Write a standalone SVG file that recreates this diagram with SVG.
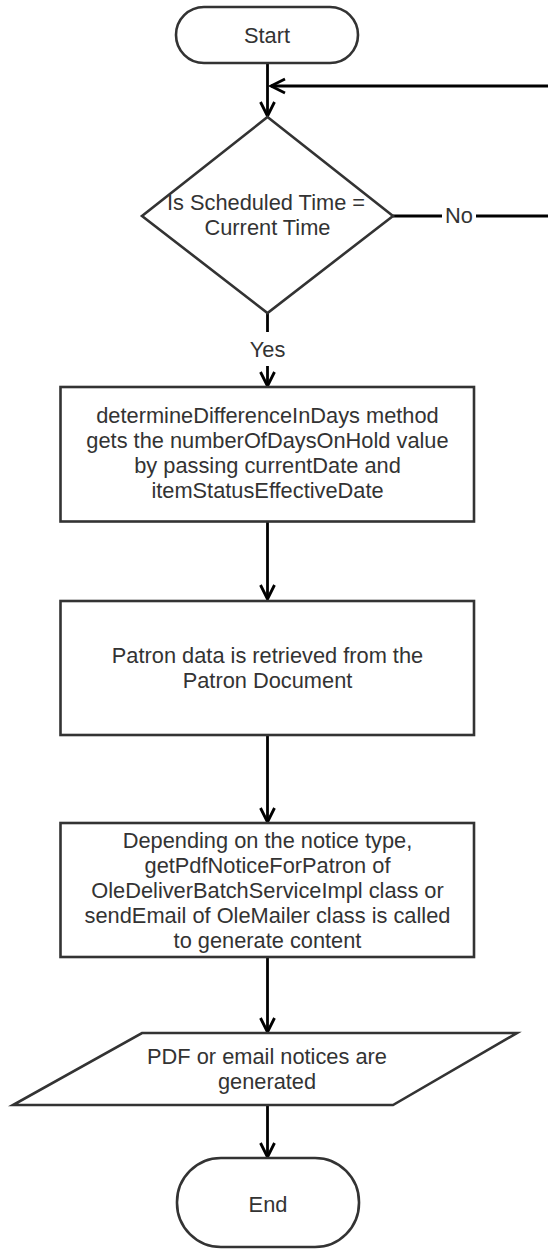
<svg xmlns="http://www.w3.org/2000/svg" width="548" height="1249" viewBox="0 0 548 1249">
  <style>
    .shape { fill: #ffffff; stroke: #333333; stroke-width: 2.6; }
    .label { font-family: "Liberation Sans", Arial, sans-serif; font-size: 21.8px; fill: #333333; text-anchor: middle; }
    .edge { fill: none; stroke: #000000; stroke-width: 2.8; }
    .gap { fill: #ffffff; stroke: none; }
  </style>
  <defs>
    <marker id="arrow" markerUnits="userSpaceOnUse" markerWidth="20" markerHeight="20" viewBox="-16 -10 20 20" refX="0" refY="0" orient="auto">
      <path d="M -14,-7 L 0,0 L -14,7" fill="none" stroke="#000000" stroke-width="2.8"/>
    </marker>
  </defs>

  <!-- connectors -->
  <g id="connectors">
    <path class="edge" d="M 267.5,63 V 116" marker-end="url(#arrow)"/>
    <path class="edge" d="M 393,216 H 560 V 86 H 271" marker-end="url(#arrow)"/>
    <path class="edge" d="M 267.5,313 V 386" marker-end="url(#arrow)"/>
    <path class="edge" d="M 267.5,522 V 599" marker-end="url(#arrow)"/>
    <path class="edge" d="M 267.5,735 V 822" marker-end="url(#arrow)"/>
    <path class="edge" d="M 267.5,957 V 1032" marker-end="url(#arrow)"/>
    <path class="edge" d="M 267.5,1105 V 1157" marker-end="url(#arrow)"/>
    <!-- branch labels -->
    <rect class="gap" x="442" y="204" width="34" height="24"/>
    <text class="label" x="459" y="222.7">No</text>
    <rect class="gap" x="247" y="332" width="42" height="34"/>
    <text class="label" x="267.5" y="356.7">Yes</text>
  </g>

  <g id="start">
    <rect class="shape" x="176" y="7" width="182" height="56" rx="28" ry="28"/>
    <text class="label" x="267" y="43.3">Start</text>
  </g>

  <g id="check-time">
    <polygon class="shape" points="267.5,117 393,216 267.5,313 142,216"/>
    <text class="label" x="266" y="210">Is Scheduled Time =</text>
    <text class="label" x="267.5" y="235">Current Time</text>
  </g>

  <g id="days-on-hold">
    <rect class="shape" x="60.5" y="387" width="413.5" height="134.5"/>
    <text class="label" x="267.5" y="423.3">determineDifferenceInDays method</text>
    <text class="label" x="267.5" y="448.3">gets the numberOfDaysOnHold value</text>
    <text class="label" x="267.5" y="473.3">by passing currentDate and</text>
    <text class="label" x="267.5" y="498.3">itemStatusEffectiveDate</text>
  </g>

  <g id="patron-data">
    <rect class="shape" x="60.5" y="601" width="413.5" height="134"/>
    <text class="label" x="267.5" y="663.3">Patron data is retrieved from the</text>
    <text class="label" x="267.5" y="688.3">Patron Document</text>
  </g>

  <g id="generate-content">
    <rect class="shape" x="60.5" y="823" width="413.5" height="134"/>
    <text class="label" x="267.5" y="848.3">Depending on the notice type,</text>
    <text class="label" x="267.5" y="873.3">getPdfNoticeForPatron of</text>
    <text class="label" x="267.5" y="898.3">OleDeliverBatchServiceImpl class or</text>
    <text class="label" x="267.5" y="923.3">sendEmail of OleMailer class is called</text>
    <text class="label" x="267.5" y="948.3">to generate content</text>
  </g>

  <g id="notices-generated">
    <polygon class="shape" points="142,1033 517,1033 393,1105 13,1105"/>
    <text class="label" x="267" y="1064">PDF or email notices are</text>
    <text class="label" x="267" y="1089.3">generated</text>
  </g>

  <g id="end">
    <rect class="shape" x="177" y="1158" width="182" height="89" rx="44" ry="44"/>
    <text class="label" x="268" y="1211.7">End</text>
  </g>
</svg>
